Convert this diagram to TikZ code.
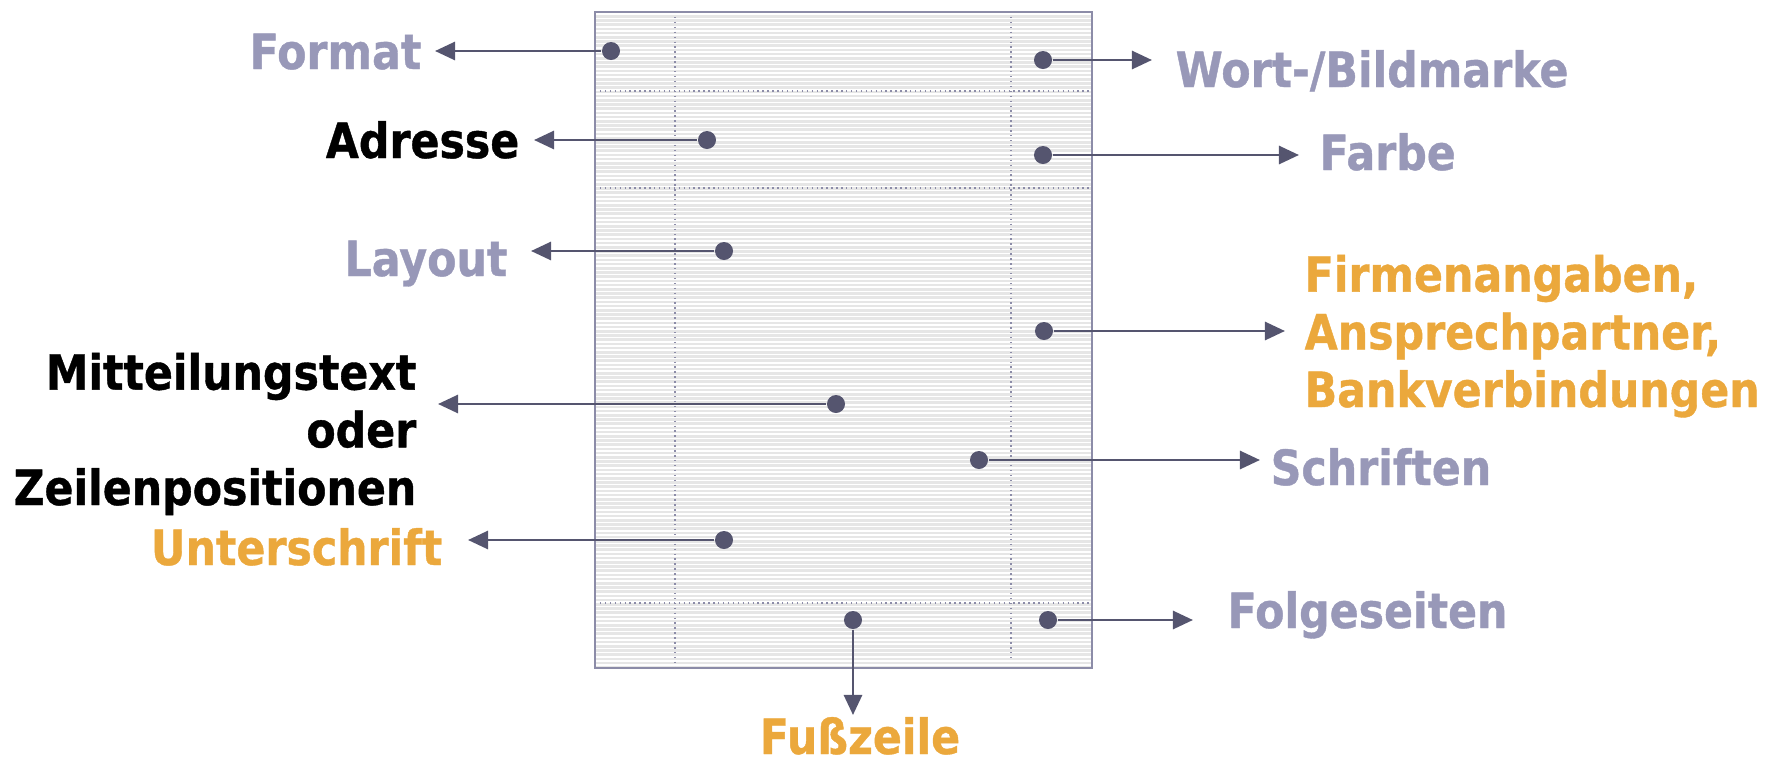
\documentclass[tikz,border=0pt]{standalone}
\usepackage{fontspec}
\setmainfont{DejaVu Sans}[FakeStretch=0.88, BoldFeatures={FakeBold=0.8}]
\usetikzlibrary{arrows.meta}

\definecolor{lila}{HTML}{9898B8}
\definecolor{amber}{HTML}{EBA83C}
\definecolor{schiefer}{HTML}{55556F}
\definecolor{papier}{HTML}{E6E6E6}
\definecolor{rahmen}{HTML}{8C8CA8}

\tikzset{
	bullet/.style={circle, fill=schiefer, inner sep=0pt, minimum size=0.18cm},
	callout/.style={-{Triangle[length=2mm,width=1.8mm]}, schiefer, line width=0.8pt},
	lbl/.style={inner sep=0pt, font=\bfseries\fontsize{13.8}{16.4}\selectfont},
	trenner/.style={rahmen, line width=0.4pt, densely dotted},
}

\begin{document}
\begin{tikzpicture}[x=0.01cm,y=-0.01cm]
	\useasboundingbox (0,0) rectangle (1771,760);

	% Briefbogen
	\fill[papier] (595,12) rectangle (1092,668);
	\foreach \y in {14.2,18.4,...,666}
	    {
		  \draw[white, line width=0.45pt] (595,\y) -- (1092,\y);
	    }
	\foreach \y in {91,188,603}
	    {
		  \draw[trenner] (595,\y) -- (1092,\y);
	    }
	\draw[trenner] (675,12) -- (675,668);
	\draw[trenner] (1011,12) -- (1011,658);
	\draw[rahmen, line width=0.6pt] (595,12) rectangle (1092,668);

	% Beschriftungen links
	\node[lbl, lila, anchor=base east] (format) at (422,69) {Format};
	\node[lbl, black, anchor=base east] (adresse) at (520,158) {Adresse};
	\node[lbl, lila, anchor=base east] (layout) at (508,276) {Layout};
	\node[lbl, black, anchor=base east, align=right] (text) at (417,505)
	    {Mitteilungstext\\oder\\Zeilenpositionen};
	\node[lbl, amber, anchor=base east] (unterschrift) at (443,565) {Unterschrift};

	% Beschriftungen rechts
	\node[lbl, lila, anchor=base west] (marke) at (1175,87) {Wort-/Bildmarke};
	\node[lbl, lila, anchor=base west] (farbe) at (1319,170) {Farbe};
	\node[lbl, amber, anchor=base west, align=left] (firma) at (1304,407)
	    {Firmenangaben,\\Ansprechpartner,\\Bankverbindungen};
	\node[lbl, lila, anchor=base west] (schriften) at (1270,485) {Schriften};
	\node[lbl, lila, anchor=base west] (folge) at (1227,628) {Folgeseiten};
	\node[lbl, amber, anchor=base] (fuss) at (860,754) {Fußzeile};

	% Punkte und Pfeile
	\foreach \name/\px/\py/\tx/\ty in {format/611/51/435/51, marke/1043/60/1152/60,
	    adresse/707/140/534/140, farbe/1043/155/1299/155, layout/724/251/531/251,
	    firma/1044/331/1285/331, text/836/404/438/404, schriften/979/460/1260/460,
	    unterschrift/724/540/468/540, folge/1048/620/1193/620, fuss/853/620/853/715}
	    {
		  \node[bullet] (p-\name) at (\px,\py) {};
		  \coordinate (t-\name) at (\tx,\ty);
		  \draw[callout] (p-\name) -- (t-\name);
	    }
\end{tikzpicture}
\end{document}
